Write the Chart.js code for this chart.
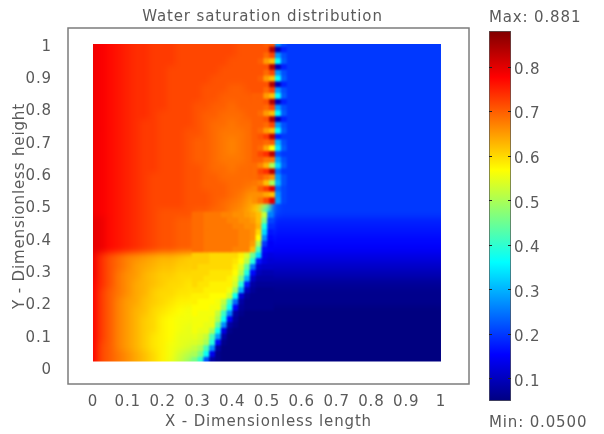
<!DOCTYPE html>
<html>
<head>
<meta charset="utf-8">
<script src="https://cdn.jsdelivr.net/npm/chart.js@4"></script>
<style>
    html, body { margin: 0; padding: 0; background: #fff; }
    canvas { position: absolute; top: 0; }
    #plot { left: 0; }
    #bar { left: 486px; }
</style>
</head>
<body>
<canvas id="plot" width="525" height="434"></canvas>
<canvas id="bar" width="118" height="434"></canvas>
<script>
const TITLE = 'Water saturation distribution';
const X_LABEL = 'X - Dimensionless length';
const Y_LABEL = 'Y - Dimensionless height';
const MAX_LABEL = 'Max: 0.881';
const MIN_LABEL = 'Min: 0.0500';

const TICK_VALUES = [0, 0.1, 0.2, 0.3, 0.4, 0.5, 0.6, 0.7, 0.8, 0.9, 1];
const BAR_TICKS = [0.1, 0.2, 0.3, 0.4, 0.5, 0.6, 0.7, 0.8];
const BAR_MIN = 0.05;
const BAR_MAX = 0.881;

// jet colormap
const CMAP_LEVELS = [0.05, 0.154, 0.362, 0.569, 0.777, 0.881];
const CMAP_COLORS = [[0, 0, 128], [0, 0, 255], [0, 255, 255], [255, 255, 0], [255, 0, 0], [128, 0, 0]];

// saturation x100, read by eye: nodes every 0.025 in x, rows go from the top down
const FIELD_X0 = 0, FIELD_DX = 0.025, FIELD_Y0 = 1.0093, FIELD_DY = 0.02755;
const FIELD_ROWS = [
[79,78,77,76,75,74,74,73,73,73,72,72,72,72,72,72,72,71,71,71,70,24,20,20,20,20,20,20,20,20,20,20,20,20,20,20,20,20,20,20,20],
[79,78,77,76,75,74,74,73,73,73,72,72,72,72,72,72,72,71,71,71,70,24,20,20,20,20,20,20,20,20,20,20,20,20,20,20,20,20,20,20,20],
[79,78,77,76,75,74,74,73,73,73,72,72,72,72,72,72,71,71,71,71,70,24,20,20,20,20,20,20,20,20,20,20,20,20,20,20,20,20,20,20,20],
[79,78,77,76,75,74,74,73,73,72,72,72,72,72,72,71,71,71,71,71,70,24,20,20,20,20,20,20,20,20,20,20,20,20,20,20,20,20,20,20,20],
[79,78,77,76,75,74,74,73,73,72,72,72,72,72,71,71,71,71,71,71,70,24,20,20,20,20,20,20,20,20,20,20,20,20,20,20,20,20,20,20,20],
[79,78,77,76,75,74,74,73,73,72,72,72,72,71,71,71,70,70,71,71,70,24,20,20,20,20,20,20,20,20,20,20,20,20,20,20,20,20,20,20,20],
[79,78,77,76,75,74,74,73,73,72,72,72,72,71,71,70,70,70,70,71,70,24,20,20,20,20,20,20,20,20,20,20,20,20,20,20,20,20,20,20,20],
[79,78,77,76,75,74,74,73,73,72,72,72,71,71,70,70,69,70,70,70,70,24,20,20,20,20,20,20,20,20,20,20,20,20,20,20,20,20,20,20,20],
[79,78,77,76,75,74,74,73,72,72,72,72,71,70,70,69,69,69,70,70,70,24,20,20,20,20,20,20,20,20,20,20,20,20,20,20,20,20,20,20,20],
[79,78,77,76,75,74,73,73,72,72,72,72,71,70,69,69,68,69,69,70,70,24,20,20,20,20,20,20,20,20,20,20,20,20,20,20,20,20,20,20,20],
[79,78,77,76,75,74,73,73,72,72,72,71,71,70,69,68,68,68,69,70,70,24,20,20,20,20,20,20,20,20,20,20,20,20,20,20,20,20,20,20,20],
[79,78,77,76,75,74,73,73,72,72,72,71,70,70,69,68,67,68,69,69,70,24,20,20,20,20,20,20,20,20,20,20,20,20,20,20,20,20,20,20,20],
[79,78,77,76,75,74,73,73,72,72,72,71,70,70,69,68,67,68,69,69,70,24,20,20,20,20,20,20,20,20,20,20,20,20,20,20,20,20,20,20,20],
[79,78,77,76,75,74,73,73,72,72,72,71,70,70,69,68,68,68,69,69,70,24,20,20,20,20,20,20,20,20,20,20,20,20,20,20,20,20,20,20,20],
[79,78,77,76,75,74,73,73,72,72,72,71,71,70,69,69,68,69,69,70,70,24,20,20,20,20,20,20,20,20,20,20,20,20,20,20,20,20,20,20,20],
[79,78,77,76,75,74,73,72,72,72,72,71,71,70,70,69,69,69,69,70,70,24,20,20,20,20,20,20,20,20,20,20,20,20,20,20,20,20,20,20,20],
[79,78,77,76,75,74,73,72,72,72,72,71,71,70,70,70,69,69,68,68,68,24,20,20,20,20,20,20,20,20,20,20,20,20,20,20,20,20,20,20,20],
[79,78,77,76,75,74,73,72,72,72,72,71,71,71,70,70,69,68,66,65,65,23,20,20,20,20,20,20,20,20,20,20,20,20,20,20,20,20,20,20,20],
[79,78,77,76,75,74,73,72,72,72,72,71,71,71,70,69,68,67,65,62,50,22,20,20,20,20,20,20,20,20,20,20,20,20,20,20,20,20,20,20,20],
[79,78,77,76,75,74,73,72,71,71,71,71,70,70,69,69,67,66,64,60,37,21,20,20,20,20,20,20,20,20,20,20,20,20,20,20,20,20,20,20,20],
[80,79,77,76,75,74,73,72,71,71,70,70,69,69,68,68,68,68,66,63,30,18,18,18,18,18,18,18,18,18,18,18,18,18,18,18,18,18,18,18,18],
[80,79,77,76,75,74,73,72,71,71,70,70,69,69,68,68,68,68,67,64,26,17,17,17,17,17,17,17,17,17,17,17,17,17,17,17,17,17,17,17,17],
[80,79,77,76,75,74,73,72,71,71,70,70,69,69,68,68,68,68,67,62,20,16,16,16,16,16,16,16,16,16,16,16,16,16,16,16,16,16,16,16,16],
[80,79,77,76,75,74,73,72,71,71,70,70,69,69,68,68,68,67,66,52,15,15,15,15,15,15,15,15,15,15,15,15,15,15,15,15,15,15,15,15,15],
[79,74,71,69,67,66,65,64,63,63,62,61,61,61,60,60,60,58,54,30,13,13,13,13,13,13,13,13,13,13,13,13,13,13,13,13,13,13,13,13,13],
[79,74,71,69,67,65,64,63,62,62,61,61,60,60,60,60,59,57,42,13,11,11,11,11,11,11,11,11,11,11,11,11,11,11,11,11,11,11,11,11,11],
[79,74,71,68,66,65,63,62,61,61,60,60,60,59,59,59,58,52,25,9,9,9,9,9,9,9,9,9,9,9,9,9,9,9,9,9,9,9,9,9,9],
[78,74,71,68,66,64,63,62,61,60,60,59,59,58,58,58,56,40,11,7,7,7,7,7,7,7,7,7,7,7,7,7,7,7,7,7,7,7,7,7,7],
[78,73,70,68,66,64,63,61,60,60,59,59,58,58,57,57,51,20,7,6,6,6,6,6,6,6,6,6,6,6,6,6,6,6,6,6,6,6,6,6,6],
[78,73,70,67,65,64,62,61,60,59,58,58,57,57,57,54,37,9,6,6,6,6,6,6,6,6,6,6,6,6,6,6,6,6,6,6,6,6,6,6,6],
[78,73,70,67,65,63,62,60,59,58,57,56,56,56,55,48,25,7,6,5,5,5,5,5,5,5,5,5,5,5,5,5,5,5,5,5,5,5,5,5,5],
[78,73,70,67,65,63,61,60,58,57,56,56,55,55,54,39,10,6,5,5,5,5,5,5,5,5,5,5,5,5,5,5,5,5,5,5,5,5,5,5,5],
[78,73,70,67,65,63,61,60,58,57,56,55,55,54,46,20,7,5,5,5,5,5,5,5,5,5,5,5,5,5,5,5,5,5,5,5,5,5,5,5,5],
[78,73,70,67,65,63,61,59,58,57,55,55,54,52,38,10,6,5,5,5,5,5,5,5,5,5,5,5,5,5,5,5,5,5,5,5,5,5,5,5,5],
[78,72,70,67,65,63,61,59,58,56,55,54,53,44,16,6,5,5,5,5,5,5,5,5,5,5,5,5,5,5,5,5,5,5,5,5,5,5,5,5,5],
[78,72,70,68,66,64,62,60,58,56,53,51,48,36,11,6,5,5,5,5,5,5,5,5,5,5,5,5,5,5,5,5,5,5,5,5,5,5,5,5,5],
[78,72,70,68,66,64,62,60,58,55,52,48,41,16,6,5,5,5,5,5,5,5,5,5,5,5,5,5,5,5,5,5,5,5,5,5,5,5,5,5,5]
];

// finer nodes over the jagged part of the front, x 0.4655 to 0.565
const FRONT_X0 = 0.4655, FRONT_DX = 0.01667, FRONT_Y0 = 1.0093, FRONT_DY = 0.01796;
const FRONT_ROWS = [
[71,71,70,70,28,22,20],
[71,71,71,84,10,18,20],
[71,71,69,72,28,22,20],
[71,70,65,62,36,23,20],
[71,71,71,84,10,18,20],
[71,71,69,72,28,22,20],
[71,70,65,62,36,23,20],
[71,71,71,84,10,18,20],
[71,71,69,72,28,22,20],
[70,70,65,62,36,23,20],
[70,70,71,84,10,18,20],
[70,70,69,72,28,22,20],
[70,69,65,62,36,23,20],
[70,70,71,84,10,18,20],
[70,70,69,72,28,22,20],
[70,69,65,62,36,23,20],
[70,71,73,83,18,20,20],
[70,70,69,70,30,22,20],
[70,69,64,57,34,23,20],
[70,72,74,83,22,20,20],
[70,70,68,68,28,22,20],
[69,67,63,50,33,23,20],
[69,72,74,83,24,20,20],
[69,70,68,66,28,22,20],
[68,67,62,50,30,22,20],
[67,70,73,80,24,21,20],
[66,66,64,62,27,21,20],
[66,68,72,80,28,21,20]
];

// finer nodes along the sloping part of the front, x 0.293 to 0.51
const SLOPE_X0 = 0.2931, SLOPE_DX = 0.01667, SLOPE_Y0 = 0.4799, SLOPE_DY = 0.01796;
const SLOPE_ROWS = [
[69,69,68,68,68,67,67,66,66,65,64,62,52,26],
[69,69,68,68,68,68,67,67,66,66,65,62,46,21],
[69,69,68,68,68,68,68,67,67,66,66,63,38,19],
[69,69,68,68,68,68,68,68,67,67,66,60,33,17],
[69,69,68,68,68,68,68,68,67,67,66,57,27,16],
[69,69,68,68,68,68,68,68,67,67,65,50,20,15],
[69,69,68,68,68,68,68,67,67,67,62,42,16,15],
[61,61,61,60,60,60,60,60,58,54,45,33,14,13],
[61,61,61,60,60,60,60,59,57,51,39,17,13,12],
[61,60,60,60,60,60,60,58,54,44,25,12,11,11],
[60,60,60,59,59,59,59,57,51,39,16,10,9,9],
[60,60,59,59,59,59,58,55,46,30,11,8,8,8],
[60,59,59,58,58,58,58,53,39,17,8,7,7,7],
[59,59,58,58,58,58,56,48,29,10,7,6,6,6],
[58,58,58,57,57,57,53,37,12,7,6,6,6,6],
[58,57,57,57,56,52,41,24,8,6,6,6,6,6],
[57,57,57,56,56,49,37,15,7,6,6,6,6,6],
[57,56,56,56,52,41,26,8,6,5,5,5,5,5],
[56,56,56,55,50,37,15,7,5,5,5,5,5,5],
[56,56,55,55,44,27,8,6,5,5,5,5,5,5],
[56,55,55,50,37,13,6,5,5,5,5,5,5,5],
[55,54,52,42,28,8,5,5,5,5,5,5,5,5],
[54,53,50,39,16,6,5,5,5,5,5,5,5,5],
[52,50,42,27,8,5,5,5,5,5,5,5,5,5],
[50,46,37,14,6,5,5,5,5,5,5,5,5,5],
[46,40,22,8,6,5,5,5,5,5,5,5,5,5],
[42,32,12,6,5,5,5,5,5,5,5,5,5,5]
];

// extent of the coloured rectangle in data units, and the axis windows
const HEAT_X = [0, 1];
const HEAT_Y = [0.0263, 1.0093];
const AXIS_X = [-0.0718, 1.0805];
const AXIS_Y = [-0.0433, 1.0588];

const TEXT_COLOR = '#5a5a5a';
const FONT = 'DejaVu Sans';

function colorAt(v) {
    let k = 0;
    while (k < CMAP_LEVELS.length - 2 && v > CMAP_LEVELS[k + 1]) k++;
    const t = Math.min(1, Math.max(0, (v - CMAP_LEVELS[k]) / (CMAP_LEVELS[k + 1] - CMAP_LEVELS[k])));
    const a = CMAP_COLORS[k], b = CMAP_COLORS[k + 1];
    const c = a.map((ch, n) => Math.round(ch + (b[n] - ch) * t));
    return `rgb(${c[0]},${c[1]},${c[2]})`;
}

function gridPoints(rows, x0, dx, y0, dy) {
    return rows.flatMap((row, j) => row.map((v, i) => ({ x: x0 + i * dx, y: y0 - j * dy, v: v / 100 })));
}

// letter spacing of the original text
const spacing = {
    id: 'spacing',
    beforeLayout(chart) { chart.ctx.letterSpacing = '0.85px'; },
    beforeDraw(chart) { chart.ctx.letterSpacing = '0.85px'; }
};

function heatBox(chart) {
    const { x, y } = chart.scales;
    const left = x.getPixelForValue(HEAT_X[0]), top = y.getPixelForValue(HEAT_Y[1]);
    return { left, top, w: x.getPixelForValue(HEAT_X[1]) - left, h: y.getPixelForValue(HEAT_Y[0]) - top };
}

// blur after each dataset, 0 means leave it for the next pass
const BLUR_BY_DATASET = [3, 0, 1.3];

// smooths the grid cells and trims them back to the coloured rectangle
const heatSoften = {
    id: 'heatSoften',
    beforeDatasetsDraw(chart) {
        const a = chart.chartArea, ctx = chart.ctx;
        ctx.save();
        ctx.strokeStyle = '#7c7c7c';
        ctx.lineWidth = 1.5;
        ctx.strokeRect(a.left, a.top, a.right - a.left, a.bottom - a.top);
        ctx.restore();
    },
    afterDatasetDraw(chart, args) {
        const sigma = BLUR_BY_DATASET[args.index];
        if (!sigma) return;
        const b = heatBox(chart), ctx = chart.ctx, cv = ctx.canvas, m = 12;
        // repeat the edge pixels outward so the blur does not pick up white
        ctx.drawImage(cv, b.left, b.top, 1, b.h, b.left - m, b.top, m, b.h);
        ctx.drawImage(cv, b.left + b.w - 1, b.top, 1, b.h, b.left + b.w, b.top, m, b.h);
        ctx.drawImage(cv, b.left, b.top, b.w, 1, b.left, b.top - m, b.w, m);
        ctx.drawImage(cv, b.left, b.top + b.h - 1, b.w, 1, b.left, b.top + b.h, b.w, m);
        ctx.save();
        ctx.beginPath();
        ctx.rect(b.left - m, b.top - m, b.w + 2 * m, b.h + 2 * m);
        ctx.clip();
        ctx.filter = `blur(${sigma}px)`;
        ctx.drawImage(cv, 0, 0);
        ctx.restore();
    },
    afterDatasetsDraw(chart) {
        const b = heatBox(chart), ctx = chart.ctx, m = 14;
        ctx.save();
        ctx.fillStyle = '#fff';
        ctx.beginPath();
        ctx.rect(b.left - m, b.top - m, b.w + 2 * m, b.h + 2 * m);
        ctx.rect(b.left, b.top, b.w, b.h);
        ctx.fill('evenodd');
        ctx.restore();
    }
};

const axisFont = { family: FONT, size: 15 };
const titleFont = { family: FONT, size: 15, weight: 'normal', lineHeight: 1.2 };

const fineCells = {
    pointStyle: 'rect',
    pointRadius: 4.5,
    pointBorderWidth: 0,
    backgroundColor: c => colorAt(c.raw.v)
};

new Chart(document.getElementById('plot'), {
    type: 'scatter',
    plugins: [spacing, heatSoften],
    data: {
        datasets: [
            {
                label: 'field',
                data: gridPoints(FIELD_ROWS, FIELD_X0, FIELD_DX, FIELD_Y0, FIELD_DY),
                pointStyle: 'rect',
                pointRadius: 6.8,
                pointBorderWidth: 0,
                backgroundColor: c => colorAt(c.raw.v),
                order: 3
            },
            {
                label: 'front',
                data: gridPoints(FRONT_ROWS, FRONT_X0, FRONT_DX, FRONT_Y0, FRONT_DY),
                ...fineCells,
                order: 2
            },
            {
                label: 'slope',
                data: gridPoints(SLOPE_ROWS, SLOPE_X0, SLOPE_DX, SLOPE_Y0, SLOPE_DY),
                ...fineCells,
                order: 1
            }
        ]
    },
    options: {
        responsive: false,
        animation: false,
        events: [],
        devicePixelRatio: 1,
        layout: { padding: 0 },
        scales: {
            x: {
                type: 'linear',
                min: AXIS_X[0],
                max: AXIS_X[1],
                grid: { display: false },
                border: { display: false },
                afterBuildTicks: s => { s.ticks = TICK_VALUES.map(v => ({ value: v })); },
                afterFit: s => { s.height = 50; },
                ticks: { autoSkip: false, maxRotation: 0, padding: 1, color: TEXT_COLOR, font: axisFont, callback: v => String(v) },
                title: { display: true, text: X_LABEL, color: TEXT_COLOR, font: axisFont, padding: { top: 3, bottom: 3 } }
            },
            y: {
                type: 'linear',
                min: AXIS_Y[0],
                max: AXIS_Y[1],
                grid: { display: false },
                border: { display: false },
                afterBuildTicks: s => { s.ticks = TICK_VALUES.map(v => ({ value: v })); },
                afterFit: s => { s.width = 68; },
                ticks: { autoSkip: false, padding: 8, color: TEXT_COLOR, font: axisFont, callback: v => String(v) },
                title: { display: true, text: Y_LABEL, color: TEXT_COLOR, font: axisFont, padding: { top: 11, bottom: 11 } }
            },
            // empty axis, keeps the plot off the right side so the title sits where it does in the original
            pad: {
                type: 'linear',
                axis: 'y',
                position: 'right',
                grid: { display: false },
                border: { display: false },
                ticks: { display: false },
                afterFit: s => { s.width = 56; }
            }
        },
        plugins: {
            legend: { display: false },
            tooltip: { enabled: false },
            title: {
                display: true,
                text: TITLE,
                color: TEXT_COLOR,
                font: titleFont,
                padding: { top: 8, bottom: 2 }
            }
        }
    }
});

function barGradient(c) {
    const a = c.chart.chartArea;
    if (!a) return '#000';
    const g = c.chart.ctx.createLinearGradient(0, a.bottom, 0, a.top);
    CMAP_LEVELS.forEach((v, i) => {
        const col = CMAP_COLORS[i];
        g.addColorStop((v - BAR_MIN) / (BAR_MAX - BAR_MIN), `rgb(${col[0]},${col[1]},${col[2]})`);
    });
    return g;
}

new Chart(document.getElementById('bar'), {
    type: 'bar',
    plugins: [spacing],
    data: {
        labels: ['saturation'],
        datasets: [{
            data: [[BAR_MIN, BAR_MAX]],
            backgroundColor: barGradient,
            borderColor: '#555',
            borderWidth: 1,
            borderSkipped: false,
            barPercentage: 1,
            categoryPercentage: 1
        }]
    },
    options: {
        responsive: false,
        animation: false,
        events: [],
        devicePixelRatio: 1,
        layout: { padding: { left: 3, right: 0, top: 0, bottom: 0 } },
        scales: {
            x: { display: false },
            y: {
                position: 'right',
                min: BAR_MIN,
                max: BAR_MAX,
                grid: { z: 1, color: '#222', drawTicks: false, tickLength: 0 },
                border: { display: false, dash: [3, 16] },
                afterBuildTicks: s => { s.ticks = BAR_TICKS.map(v => ({ value: v })); },
                afterFit: s => { s.width = 93; },
                ticks: { padding: 3, labelOffset: 3, color: TEXT_COLOR, font: axisFont, callback: v => String(v) }
            }
        },
        plugins: {
            legend: { display: false },
            tooltip: { enabled: false },
            title: {
                display: true,
                text: MAX_LABEL,
                align: 'start',
                color: TEXT_COLOR,
                font: titleFont,
                padding: { top: 9, bottom: 4 }
            },
            subtitle: {
                display: true,
                text: MIN_LABEL,
                position: 'bottom',
                align: 'start',
                color: TEXT_COLOR,
                font: titleFont,
                padding: { top: 13.5, bottom: 1.5 }
            }
        }
    }
});
</script>
</body>
</html>
